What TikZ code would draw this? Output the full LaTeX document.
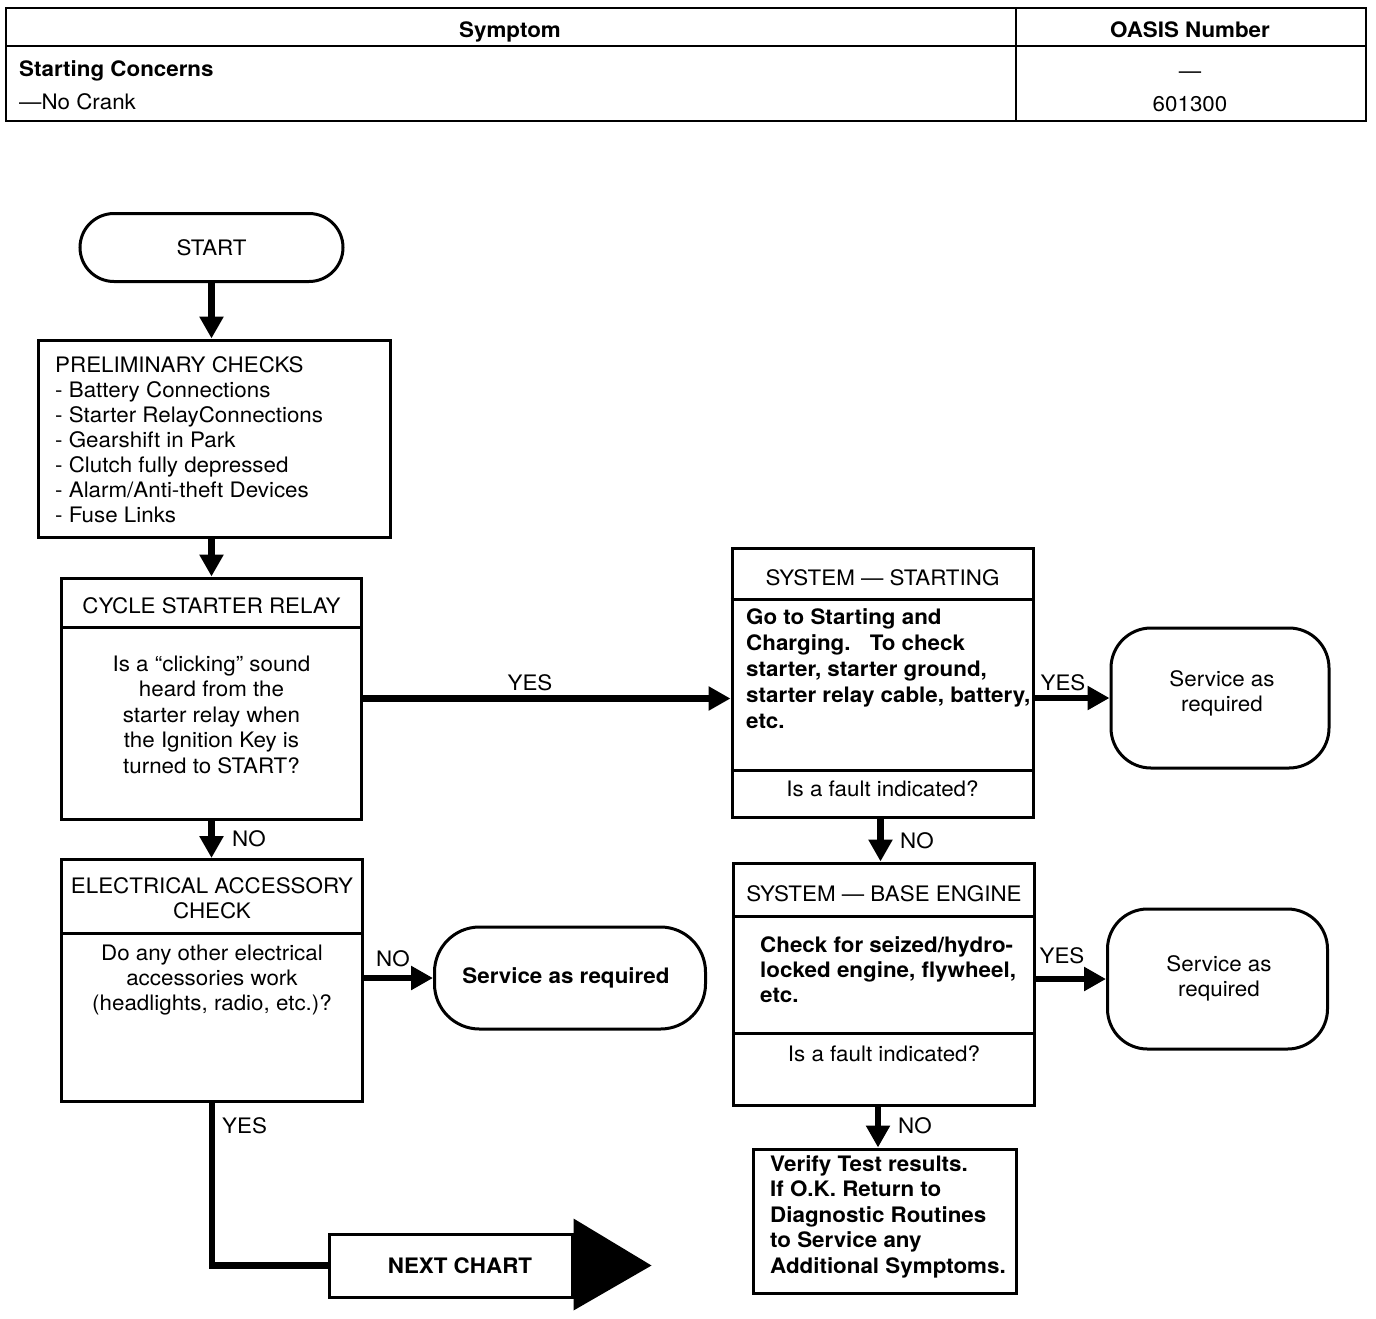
\documentclass[tikz,border=0pt]{standalone}
\usepackage{fontspec}
\setmainfont{TeX Gyre Heros}[FakeStretch=1.05]
\usetikzlibrary{arrows.meta}
\newcommand\dfont{\fontsize{21.3}{25}\selectfont}
\newcommand\tlines[6]{\foreach \lineText [count=\i from 0] in {#6}{\node[lbl,#2] (#1\i) at ({#3},{#4+#5*\i}) {\lineText};}}
\begin{document}
\begin{tikzpicture}[x=1pt,y=-1pt,
  lbl/.style={font=\dfont, inner sep=0pt},
  bld/.style={font=\dfont\bfseries},
  box/.style={draw, line width=3pt, inner sep=0pt, rectangle},
  term/.style={box, rounded corners=#1},
  arr/.style={line width=6.5pt, -{Triangle[length=22pt,width=23pt]}},
  thk/.style={line width=6.5pt},
  div/.style={line width=3pt},
  tbl/.style={line width=2.5pt}]
\useasboundingbox (0,0) rectangle (1376,1318);

% ---- table
\draw[tbl] (6,8) rectangle (1366,121);
\draw[tbl] (6,46) -- (1366,46);
\draw[tbl] (1016,8) -- (1016,121);
\node[lbl,bld,anchor=base] (tsym) at (510,37) {Symptom};
\node[lbl,bld,anchor=base] (toas) at (1190,37) {OASIS Number};
\node[lbl,bld,anchor=base west] (tsc) at (19,76) {Starting Concerns};
\node[lbl,anchor=base west] (tnc) at (19,109) {—No Crank};
\node[lbl,anchor=base] (tdash) at (1190,78) {—};
\node[lbl,anchor=base] (tnum) at (1190,111) {601300};

% ---- boxes
\node[term=34pt, minimum width=263pt, minimum height=68pt, font=\dfont] (start) at (211.5,247.5) {START};
\node[box, minimum width=352pt, minimum height=197pt] (pre) at (214,438.5) {};
\node[box, minimum width=300pt, minimum height=241pt] (cyc) at (211.5,698.5) {};
\node[box, minimum width=301pt, minimum height=242pt] (elec) at (212,980.5) {};
\node[term=45pt, minimum width=271pt, minimum height=102pt] (svc1) at (570,978) {};
\node[box, minimum width=243pt, minimum height=63pt] (next) at (450.5,1265.5) {};
\node[box, minimum width=301pt, minimum height=269pt] (sst) at (882.5,682.5) {};
\node[term=40pt, minimum width=218pt, minimum height=140pt] (svc2) at (1220,698) {};
\node[box, minimum width=301pt, minimum height=242pt] (base) at (884,984) {};
\node[term=40pt, minimum width=220pt, minimum height=140pt] (svc3) at (1217.5,979) {};
\node[box, minimum width=263pt, minimum height=144pt] (ver) at (884.5,1221) {};

% ---- dividers
\draw[div] (cyc.west |- 0,627) -- (cyc.east |- 0,627);
\draw[div] (elec.west |- 0,933) -- (elec.east |- 0,933);
\draw[div] (sst.west |- 0,599) -- (sst.east |- 0,599);
\draw[div] (sst.west |- 0,770) -- (sst.east |- 0,770);
\draw[div] (base.west |- 0,916) -- (base.east |- 0,916);
\draw[div] (base.west |- 0,1033) -- (base.east |- 0,1033);

% ---- texts
\tlines{pre}{anchor=base west}{55}{372}{25}{PRELIMINARY CHECKS, - Battery Connections, - Starter RelayConnections, - Gearshift in Park, - Clutch fully depressed, - Alarm/Anti-theft Devices, - Fuse Links}
\node[lbl,anchor=base] (cych) at (211.5,613) {CYCLE STARTER RELAY};
\tlines{cycb}{anchor=base}{211.5}{671}{25.5}{Is a “clicking” sound, heard from the, starter relay when, the Ignition Key is, turned to START?}
\tlines{elh}{anchor=base}{212}{893}{25.5}{ELECTRICAL ACCESSORY, CHECK}
\tlines{elb}{anchor=base}{212}{960}{25.3}{Do any other electrical, accessories work, {(headlights, radio, etc.)?}}
\node[lbl,bld,anchor=base] (svc1t) at (566,983) {Service as required};
\node[lbl,bld,anchor=base] (nextt) at (460,1273) {NEXT CHART};
\node[lbl,anchor=base] (ssth) at (882.5,585) {SYSTEM — STARTING};
\tlines{sstb}{anchor=base west,bld}{746}{624}{26}{Go to Starting and, Charging.\hspace{0.9em}To check, {starter, starter ground,}, {starter relay cable, battery,}, etc.}
\node[lbl,anchor=base] (sstq) at (882.5,796) {Is a fault indicated?};
\tlines{svc2t}{anchor=base}{1222}{686}{25}{Service as, required}
\node[lbl,anchor=base] (baseh) at (884,901) {SYSTEM — BASE ENGINE};
\tlines{baseb}{anchor=base west,bld}{760}{952}{25}{Check for seized/hydro-, {locked engine, flywheel,}, etc.}
\node[lbl,anchor=base] (baseq) at (884,1061) {Is a fault indicated?};
\tlines{svc3t}{anchor=base}{1219}{971}{25}{Service as, required}
\tlines{verb}{anchor=base west,bld}{770}{1171}{25.5}{Verify Test results., If O.K. Return to, Diagnostic Routines, to Service any, Additional Symptoms.}

% ---- connectors
\draw[arr] (start.south) -- (pre.north -| start.south);
\draw[arr] (cyc.north |- pre.south) -- (cyc.north);
\draw[arr] (cyc.east) -- (cyc.east -| sst.west);
\node[lbl,anchor=base] (ly1) at (530,690) {YES};
\draw[arr] (cyc.south) -- (cyc.south |- elec.north);
\node[lbl,anchor=base west] (ln1) at (232,846) {NO};
\draw[arr] (elec.east |- svc1.west) -- (svc1.west);
\node[lbl,anchor=base] (ln2) at (393,966) {NO};
\draw[thk] (elec.south) |- (next.west);
\node[lbl,anchor=base west] (ly2) at (222,1133) {YES};
\fill ([yshift=47pt]next.east) -- ([xshift=78pt]next.east) -- ([yshift=-45pt]next.east) -- cycle;
\draw[arr] (sst.east |- svc2.west) -- (svc2.west);
\node[lbl,anchor=base] (ly3) at (1063,690) {YES};
\draw[arr] ([xshift=-2pt]sst.south) -- ([xshift=-2pt]sst.south |- base.north);
\node[lbl,anchor=base west] (ln3) at (900,848) {NO};
\draw[arr] (base.east |- svc3.west) -- (svc3.west);
\node[lbl,anchor=base] (ly4) at (1062,963) {YES};
\draw[arr] ([xshift=-6pt]base.south) -- ([xshift=-6pt]base.south |- ver.north);
\node[lbl,anchor=base west] (ln4) at (898,1133) {NO};
\end{tikzpicture}
\end{document}
